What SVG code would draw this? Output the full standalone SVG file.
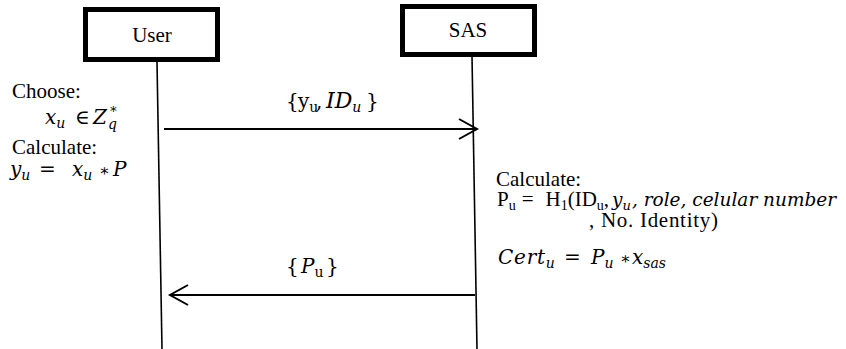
<svg xmlns="http://www.w3.org/2000/svg" width="846" height="349" viewBox="0 0 846 349">
<style>
  .box { fill: #fff; stroke: #000; stroke-width: 5; }
  .life { stroke: #000; stroke-width: 1.6; fill: none; }
  .msg { stroke: #000; stroke-width: 2; fill: none; }
  .t { font-family: 'Liberation Serif', 'Times New Roman', serif; font-size: 21px; fill: #000; }
  .m { font-family: 'DejaVu Serif', 'Liberation Serif', serif; font-size: 20px; fill: #000; }
  .mi { font-style: italic; }
  .s { font-size: 14px; }
  .ss { font-size: 13px; }
  .op { font-size: 16px; }
</style>
<defs>
  <marker id="open" markerUnits="userSpaceOnUse" markerWidth="22" markerHeight="24" refX="19" refY="12" orient="auto">
    <path d="M1,2 L19,12 L1,22" fill="none" stroke="#000" stroke-width="2"/>
  </marker>
</defs>

<g id="user">
  <rect class="box" x="85.5" y="9.5" width="132" height="50"/>
  <text class="t" x="152" y="42" text-anchor="middle">User</text>
  <line class="life" x1="157" y1="62" x2="162" y2="349"/>
</g>

<g id="sas">
  <rect class="box" x="402.5" y="6.5" width="132" height="48"/>
  <text class="t" x="468" y="37" text-anchor="middle">SAS</text>
  <line class="life" x1="472" y1="56" x2="477" y2="349"/>
</g>

<g id="user-notes">
  <text class="t" x="12" y="98">Choose:</text>
  <text class="m"><tspan class="mi" x="45" y="124">x</tspan><tspan class="mi s" dy="4">u</tspan><tspan x="75" y="124">∈</tspan><tspan class="mi" x="93" y="124">Z</tspan><tspan class="ss" x="109" y="113">∗</tspan><tspan class="mi s" x="108" y="129">q</tspan></text>
  <text class="t" x="12" y="154">Calculate:</text>
  <text class="m"><tspan class="mi" x="10" y="176">y</tspan><tspan class="mi s" dy="4">u</tspan><tspan x="39" y="176">=</tspan><tspan class="mi" x="72" y="176">x</tspan><tspan class="mi s" dy="4">u</tspan><tspan class="op" x="99" y="176">∗</tspan><tspan class="mi" x="113" y="176">P</tspan></text>
</g>

<g id="sas-notes">
  <text class="t" x="496" y="186">Calculate:</text>
  <text class="t" x="497" y="206">P<tspan class="s" dy="4">u</tspan><tspan dy="-4" dx="6">=</tspan><tspan dx="12">H</tspan><tspan class="s" dy="4">1</tspan><tspan dy="-4">(ID</tspan><tspan class="s" dy="4">u</tspan><tspan dy="-4">,</tspan><tspan class="m mi" dx="3" style="font-size:18.5px">y</tspan><tspan class="m mi ss" dy="4">u</tspan><tspan class="m mi" dy="-4" dx="1" style="font-size:18.5px">, role, celular number</tspan></text>
  <text class="t" x="589" y="227" textLength="129" lengthAdjust="spacing">, No. Identity)</text>
  <text class="m"><tspan class="mi" x="498" y="264" textLength="47" lengthAdjust="spacing">Cert</tspan><tspan class="mi s" dy="4">u</tspan><tspan x="564" y="264">=</tspan><tspan class="mi" x="591" y="264">P</tspan><tspan class="mi s" dy="4">u</tspan><tspan class="op" x="620" y="264">∗</tspan><tspan class="mi" x="632" y="264">x</tspan><tspan class="mi s" dy="4">sas</tspan></text>
</g>

<g id="connectors">
  <line class="msg" x1="164" y1="129" x2="477" y2="129" marker-end="url(#open)"/>
  <text class="m"><tspan x="286" y="108">{</tspan><tspan x="298" y="108">y</tspan><tspan class="s" dy="4">u</tspan><tspan x="316" y="108">,</tspan><tspan class="mi" x="326" y="108" style="font-size:22px">ID</tspan><tspan class="mi s" dy="4">u</tspan><tspan x="366" y="108">}</tspan></text>
  <line class="msg" x1="475" y1="295" x2="170" y2="295" marker-end="url(#open)"/>
  <text class="m"><tspan x="286" y="273">{</tspan><tspan class="mi" x="301" y="273">P</tspan><tspan class="s" dy="4">u</tspan><tspan x="326" y="273">}</tspan></text>
</g>
</svg>
